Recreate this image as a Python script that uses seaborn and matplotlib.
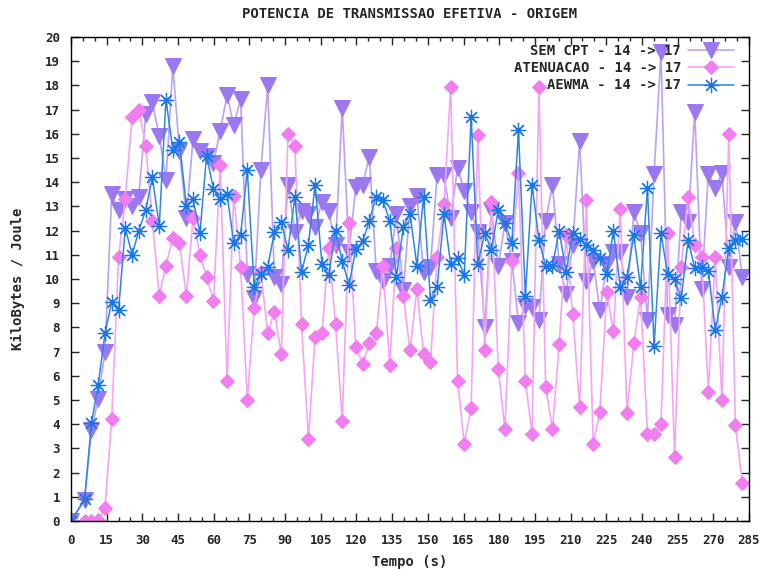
import matplotlib
matplotlib.use("Agg")
import matplotlib.pyplot as plt
import seaborn as sns
from matplotlib.ticker import MultipleLocator

# tempo (s) de cada amostra
tempo = [0, 5.7, 8.6, 11.4, 14.3, 17.1, 20.0, 22.8, 25.7, 28.5, 31.4, 34.2, 37.1, 39.9,
         42.8, 45.6, 48.5, 51.3, 54.2, 57.0, 59.9, 62.7, 65.6, 68.4, 71.3, 74.1, 77.0,
         79.8, 82.7, 85.5, 88.4, 91.2, 94.1, 96.9, 99.8, 102.6, 105.5, 108.3, 111.2,
         114.0, 116.9, 119.7, 122.6, 125.4, 128.3, 131.1, 134.0, 136.8, 139.7, 142.5,
         145.4, 148.2, 151.1, 153.9, 156.8, 159.6, 162.5, 165.3, 168.2, 171.0, 173.9,
         176.7, 179.6, 182.4, 185.3, 188.1, 191.0, 193.8, 196.7, 199.5, 202.4, 205.2,
         208.1, 210.9, 213.8, 216.6, 219.5, 222.3, 225.2, 228.0, 230.9, 233.7, 236.6,
         239.4, 242.3, 245.1, 248.0, 250.8, 253.7, 256.5, 259.4, 262.2, 265.1, 267.9,
         270.8, 273.6, 276.5, 279.3, 282.2]

sem_cpt = [0, 0.85, 3.75, 5.05, 7.0, 13.5, 12.85, 13.3, 13.0, 13.4, 16.8, 17.3, 15.9, 14.1,
           18.8, 15.3, 12.5, 15.8, 15.3, 15.1, 14.8, 16.1, 17.6, 16.35, 17.45, 10.2, 9.2,
           14.5, 18.0, 10.1, 9.8, 13.9, 11.95, 12.8, 12.7, 12.15, 13.2, 12.8, 11.4, 17.05,
           11.1, 13.8, 13.9, 15.05, 10.35, 9.9, 10.55, 12.7, 9.55, 13.0, 13.45, 10.3, 10.5,
           14.3, 14.3, 12.5, 14.6, 13.65, 12.75, 11.95, 8.0, 12.85, 10.55, 12.3, 10.75,
           8.2, 8.9, 8.85, 8.3, 12.4, 13.9, 10.6, 9.4, 11.4, 15.7, 9.9, 10.75, 8.7, 10.6,
           11.1, 11.1, 9.25, 12.75, 11.9, 8.3, 14.35, 19.4, 8.5, 8.1, 12.75, 12.35, 16.9,
           9.6, 14.35, 13.75, 14.4, 10.5, 12.35, 10.1]

atenuacao = [0, 0, 0, 0.05, 0.55, 4.2, 10.9, 13.3, 16.7, 17.0, 15.5, 12.4, 9.3, 10.55,
             11.7, 11.5, 9.3, 12.5, 11.0, 10.1, 9.1, 14.7, 5.8, 13.45, 10.5, 5.0, 8.8,
             10.3, 7.75, 8.65, 6.9, 16.0, 15.5, 8.15, 3.4, 7.6, 7.75, 11.3, 8.15, 4.15,
             12.3, 7.2, 6.5, 7.35, 7.75, 10.55, 6.45, 11.3, 9.3, 7.05, 9.6, 6.9, 6.55,
             10.9, 13.1, 17.95, 5.8, 3.2, 4.65, 15.95, 7.05, 13.2, 6.3, 3.8, 10.75, 14.4,
             5.8, 3.6, 17.95, 5.55, 3.8, 7.3, 11.8, 8.55, 4.7, 13.25, 3.2, 4.5, 9.45, 7.85,
             12.9, 4.45, 7.35, 9.25, 3.6, 3.6, 4.0, 11.9, 2.65, 10.5, 13.4, 11.4, 10.9,
             5.35, 10.9, 5.0, 16.0, 3.95, 1.55]

aewma = [0, 0.9, 4.05, 5.6, 7.75, 9.05, 8.7, 12.1, 11.0, 12.0, 12.85, 14.2, 12.2, 17.4,
         15.35, 15.65, 13.0, 13.3, 11.9, 15.1, 13.7, 13.3, 13.5, 11.5, 11.8, 14.5, 9.65,
         10.2, 10.5, 11.95, 12.35, 11.2, 13.4, 10.3, 11.4, 13.9, 10.6, 10.15, 12.0,
         10.75, 9.75, 11.25, 11.55, 12.4, 13.4, 13.25, 12.4, 10.1, 12.15, 12.7, 10.55,
         13.4, 9.15, 9.65, 12.7, 10.6, 10.85, 10.15, 16.7, 10.6, 11.9, 11.2, 12.85, 12.3,
         11.5, 16.15, 9.3, 13.9, 11.6, 10.55, 10.55, 12.0, 10.3, 11.9, 11.65, 11.4, 11.2,
         10.85, 10.2, 12.0, 9.65, 10.1, 11.8, 9.65, 13.75, 7.25, 11.9, 10.2, 10.0, 9.2,
         11.6, 10.45, 10.5, 10.35, 7.9, 9.25, 11.3, 11.6, 11.65]

labels = ["SEM CPT - 14 -> 17", "ATENUACAO - 14 -> 17", "AEWMA - 14 -> 17"]

sns.set_style("ticks")
plt.rcParams['font.family'] = ['DejaVu Sans Mono']
plt.rcParams['font.weight'] = 'bold'

fig = plt.figure(figsize=(7.65, 5.69), dpi=100)
ax = fig.add_axes([71 / 765, 1 - 521 / 569, 678 / 765, 484 / 569])

sns.lineplot(x=tempo, y=sem_cpt, ax=ax, color="#b9a3f2", lw=1.2, marker="v", ms=11,
             markerfacecolor="#9c78f0", markeredgecolor="#9c78f0", label=labels[0])
sns.lineplot(x=tempo, y=atenuacao, ax=ax, color="#f4a6f4", lw=1.2, marker="D", ms=7,
             markerfacecolor="#f07ef0", markeredgecolor="#f07ef0", label=labels[1])
sns.lineplot(x=tempo, y=aewma, ax=ax, color="#2f86dc", lw=1.1, marker=(8, 2, 0), ms=11,
             markeredgecolor="#1a78e6", mew=0.9, label=labels[2])

ax.set_xlim(0, 285)
ax.set_ylim(0, 20)
ax.xaxis.set_major_locator(MultipleLocator(15))
ax.xaxis.set_minor_locator(MultipleLocator(5))
ax.yaxis.set_major_locator(MultipleLocator(1))
ax.tick_params(which="both", direction="in", top=True, right=True, labelsize=9, width=1)
ax.tick_params(which="major", length=6)
ax.tick_params(which="minor", length=3)
ax.tick_params(axis="x", pad=9)
ax.tick_params(axis="y", pad=8)
for s in ax.spines.values():
    s.set_linewidth(1)
    s.set_color("black")

ax.set_title("POTENCIA DE TRANSMISSAO EFETIVA - ORIGEM", fontsize=10, fontweight="bold", pad=14)
ax.set_xlabel("Tempo (s)", fontsize=10, fontweight="bold", labelpad=6)
ax.set_ylabel("KiloBytes / Joule", fontsize=10, fontweight="bold", labelpad=14)

ax.legend(loc="upper right", frameon=False, markerfirst=False, fontsize=10,
          handlelength=3.3, labelspacing=0.22, borderaxespad=0.05, handletextpad=0.5,
          borderpad=0.3, bbox_to_anchor=(0.985, 0.995))

plt.savefig("out.png", dpi=100)
